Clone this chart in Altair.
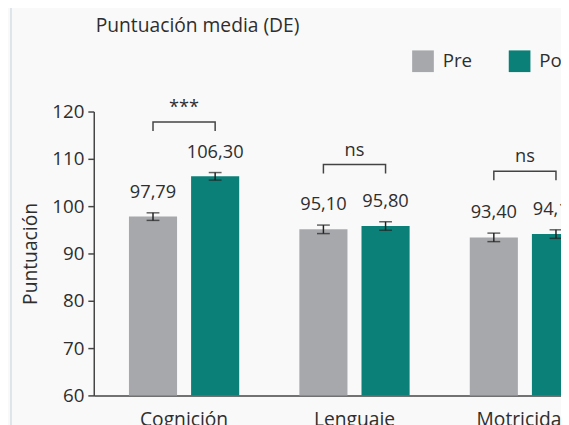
import altair as alt
import pandas as pd

categories = ["Cognición", "Lenguaje", "Motricidad"]
groups = ["Pre", "Post"]
pre_values = [97.79, 95.10, 93.40]
post_values = [106.30, 95.80, 94.10]
pre_errors = [0.8, 0.9, 0.9]
post_errors = [0.8, 0.9, 0.9]
significance = ["***", "ns", "ns"]
bracket_tops = [117.8, 108.8, 107.4]
y_ticks = [60, 70, 80, 90, 100, 110, 120]
bar_colors = ["#a6a8ab", "#0a8078"]
chart_title = "Puntuación media (DE)"

FONT = "Open Sans"
TXT = "#2e2e2e"

rows = []
for i, c in enumerate(categories):
    rows.append(dict(cat=c, grp="Pre", value=pre_values[i], err=pre_errors[i]))
    rows.append(dict(cat=c, grp="Post", value=post_values[i], err=post_errors[i]))
df = pd.DataFrame(rows)
df["lo"] = df["value"] - df["err"]
df["hi"] = df["value"] + df["err"]
df["label"] = df["value"].map(lambda v: f"{v:.2f}".replace(".", ","))

leg = 1.9
brows = []
for i, c in enumerate(categories):
    t = bracket_tops[i]
    brows += [
        dict(cat=c, grp="Pre", y=t - leg, o=0),
        dict(cat=c, grp="Pre", y=t, o=1),
        dict(cat=c, grp="Post", y=t, o=2),
        dict(cat=c, grp="Post", y=t - leg, o=3),
    ]
bdf = pd.DataFrame(brows)
sdf = pd.DataFrame({"cat": categories, "sig": significance, "y": bracket_tops})

xscale = alt.Scale(range=[0, 529], paddingInner=0, paddingOuter=0.03)
xaxis = alt.Axis(
    title=None, labelAngle=0, ticks=False, domainColor="#444444", domainWidth=1.5,
    labelFont=FONT, labelFontSize=19.5, labelColor=TXT, labelPadding=16,
)
X = alt.X("cat:N", sort=categories, scale=xscale, axis=xaxis)
XO = alt.XOffset("grp:N", sort=groups, scale=alt.Scale(paddingInner=0.2258, paddingOuter=0.484))
yscale = alt.Scale(domain=[60, 120], nice=False, zero=False)
yaxis = alt.Axis(
    title="Puntuación", values=y_ticks, grid=False, domainColor="#444444", domainWidth=1.5,
    tickColor="#444444", tickSize=6, tickWidth=1.5, labelPadding=4,
    labelFont=FONT, labelFontSize=19, labelColor=TXT,
    titleFont=FONT, titleFontSize=19.5, titleFontWeight="normal", titleColor=TXT, titlePadding=11,
)

def Y(field):
    return alt.Y(field, scale=yscale, axis=yaxis)

base = alt.Chart(df)

bars = base.mark_bar().encode(
    x=X, xOffset=XO, y=Y("value:Q"), y2=alt.datum(60),
    color=alt.Color(
        "grp:N", scale=alt.Scale(domain=groups, range=bar_colors),
        legend=alt.Legend(
            title=None, orient="none", legendX=323, legendY=-62, direction="horizontal",
            symbolType="square", symbolSize=484, symbolStrokeWidth=0, symbolOpacity=1,
            labelFont=FONT, labelFontSize=19, labelColor=TXT, labelOffset=9, columnPadding=37,
        ),
    ),
)
err_rule = base.mark_rule(color="#222222", strokeWidth=1.5).encode(
    x=X, xOffset=XO, y=Y("lo:Q"), y2="hi:Q"
)
cap_hi = base.mark_tick(color="#222222", size=13, thickness=1.5).encode(x=X, xOffset=XO, y=Y("hi:Q"))
cap_lo = base.mark_tick(color="#222222", size=13, thickness=1.5).encode(x=X, xOffset=XO, y=Y("lo:Q"))
vals = base.mark_text(font=FONT, fontSize=18.5, color=TXT, dy=-15, baseline="alphabetic").encode(
    x=X, xOffset=XO, y=Y("hi:Q"), text="label:N"
)
brackets = alt.Chart(bdf).mark_line(color="#444444", strokeWidth=1.5).encode(
    x=X, xOffset=XO, y=Y("y:Q"), detail="cat:N", order="o:Q"
)
sig = alt.Chart(sdf).mark_text(font=FONT, fontSize=18.5, color=TXT, dy=-9, baseline="alphabetic").encode(
    x=X, y=Y("y:Q"), text="sig:N"
)
one = pd.DataFrame({"t": [chart_title]})
border = alt.Chart(one).mark_rule(color="#dde5ea", strokeWidth=2).encode(
    x=alt.value(-84), y=alt.value(-110), y2=alt.value(330)
)
title = alt.Chart(one).mark_text(
    font=FONT, fontSize=19.5, color=TXT, align="left", baseline="alphabetic"
).encode(x=alt.value(2), y=alt.value(-81), text="t:N")

chart = alt.layer(border, title, bars, err_rule, cap_hi, cap_lo, vals, brackets, sig).properties(
    width=474, height=288,
    autosize=alt.AutoSizeParams(type="none"),
    padding={"left": 87, "top": 102, "right": 0, "bottom": 27},
    background="#f9f9f9",
).configure_view(stroke=None)

chart.save("out.html", embed_options={"renderer": "svg", "actions": False})
